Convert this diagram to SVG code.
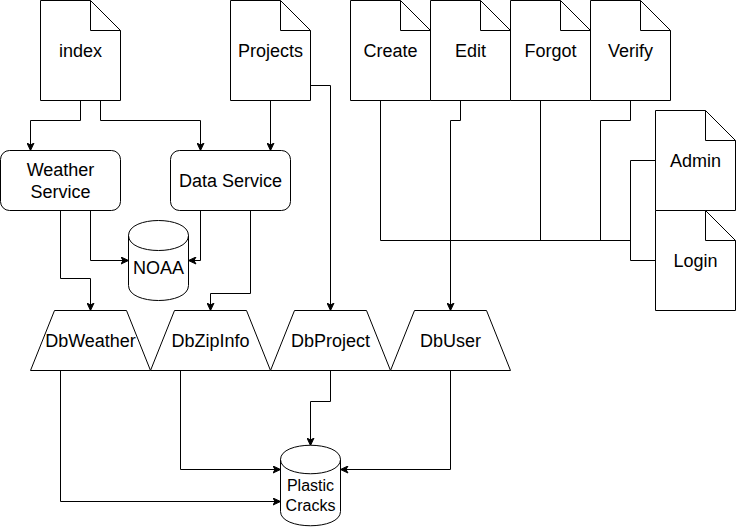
<svg xmlns="http://www.w3.org/2000/svg" width="737" height="529" viewBox="0 0 737 529">
<style>
.s{fill:#fff;stroke:#000;stroke-width:1}
.c{fill:none;stroke:#000;stroke-width:1}
text{font-family:"Liberation Sans",Arial,sans-serif;font-size:18px;fill:#000;text-anchor:middle}
.sm{font-size:16px}
</style>
<defs>
<marker id="a" viewBox="-8 -4 9 8" refX="0" refY="0" markerWidth="9" markerHeight="8" markerUnits="userSpaceOnUse" orient="auto">
<path d="M-7.5,-3.5 L0,0 L-7.5,3.5 L-5.5,0 z" fill="#000" stroke="#000" stroke-width="1"/>
</marker>
</defs>
<rect width="737" height="529" fill="#fff"/>
<g transform="translate(0.5,0.5)">
<g id="connectors" class="c">
<polyline points="80,100 80,120 30,120 30,150" marker-end="url(#a)"/>
<polyline points="100,100 100,120 200,120 200,150" marker-end="url(#a)"/>
<polyline points="270,100 270,150" marker-end="url(#a)"/>
<polyline points="310,85 330,85 330,310" marker-end="url(#a)"/>
<polyline points="60,210 60,278 90,278 90,310" marker-end="url(#a)"/>
<polyline points="90,210 90,260 128,260" marker-end="url(#a)"/>
<polyline points="200,210 200,260 188,260" marker-end="url(#a)"/>
<polyline points="250,210 250,293 210,293 210,310" marker-end="url(#a)"/>
<polyline points="60,370 60,501 280,501" marker-end="url(#a)"/>
<polyline points="180,370 180,469 280,469" marker-end="url(#a)"/>
<polyline points="330,370 330,401 310,401 310,445" marker-end="url(#a)"/>
<polyline points="450,370 450,469 340,469" marker-end="url(#a)"/>
<polyline points="460,100 460,120 450,120 450,310" marker-end="url(#a)"/>
<polyline points="380,100 380,240 630,240"/>
<polyline points="540,100 540,240"/>
<polyline points="630,100 630,120 600,120 600,240"/>
<polyline points="655,160 630,160 630,260 655,260"/>
</g>
<g id="index"><path class="s" d="M40,0 H90 L120,30 V100 H40 Z"/><path class="c" d="M90,0 V30 H120"/><text x="80" y="56">index</text></g>
<g id="projects"><path class="s" d="M230,0 H280 L310,30 V100 H230 Z"/><path class="c" d="M280,0 V30 H310"/><text x="270" y="56">Projects</text></g>
<g id="create"><path class="s" d="M350,0 H400 L430,30 V100 H350 Z"/><path class="c" d="M400,0 V30 H430"/><text x="390" y="56">Create</text></g>
<g id="edit"><path class="s" d="M430,0 H480 L510,30 V100 H430 Z"/><path class="c" d="M480,0 V30 H510"/><text x="470" y="56">Edit</text></g>
<g id="forgot"><path class="s" d="M510,0 H560 L590,30 V100 H510 Z"/><path class="c" d="M560,0 V30 H590"/><text x="550" y="56">Forgot</text></g>
<g id="verify"><path class="s" d="M590,0 H640 L670,30 V100 H590 Z"/><path class="c" d="M640,0 V30 H670"/><text x="630" y="56">Verify</text></g>
<g id="admin"><path class="s" d="M655,110 H705 L735,140 V210 H655 Z"/><path class="c" d="M705,110 V140 H735"/><text x="695" y="166">Admin</text></g>
<g id="login"><path class="s" d="M655,210 H705 L735,240 V310 H655 Z"/><path class="c" d="M705,210 V240 H735"/><text x="695" y="266">Login</text></g>
<g id="weather-service"><rect class="s" x="0" y="150" width="120" height="60" rx="9" ry="9"/><text x="60" y="175">Weather</text><text x="60" y="197">Service</text></g>
<g id="data-service"><rect class="s" x="170" y="150" width="120" height="60" rx="9" ry="9"/><text x="230" y="186">Data Service</text></g>
<g id="noaa"><path class="s" d="M128,235 C128,215 188,215 188,235 V285 C188,305 128,305 128,285 Z"/><path class="c" d="M128,235 C128,255 188,255 188,235"/><text x="158" y="273">NOAA</text></g>
<g id="dbweather"><path class="s" d="M30,370 L54,310 H126 L150,370 Z"/><text x="90" y="346">DbWeather</text></g>
<g id="dbzipinfo"><path class="s" d="M150,370 L174,310 H246 L270,370 Z"/><text x="210" y="346">DbZipInfo</text></g>
<g id="dbproject"><path class="s" d="M270,370 L294,310 H366 L390,370 Z"/><text x="330" y="346">DbProject</text></g>
<g id="dbuser"><path class="s" d="M390,370 L414,310 H486 L510,370 Z"/><text x="450" y="346">DbUser</text></g>
<g id="plastic-cracks"><path class="s" d="M280,459 C280,440 340,440 340,459 V511 C340,530 280,530 280,511 Z"/><path class="c" d="M280,459 C280,478 340,478 340,459"/><text class="sm" x="310" y="490">Plastic</text><text class="sm" x="310" y="510">Cracks</text></g>
</g>
</svg>
